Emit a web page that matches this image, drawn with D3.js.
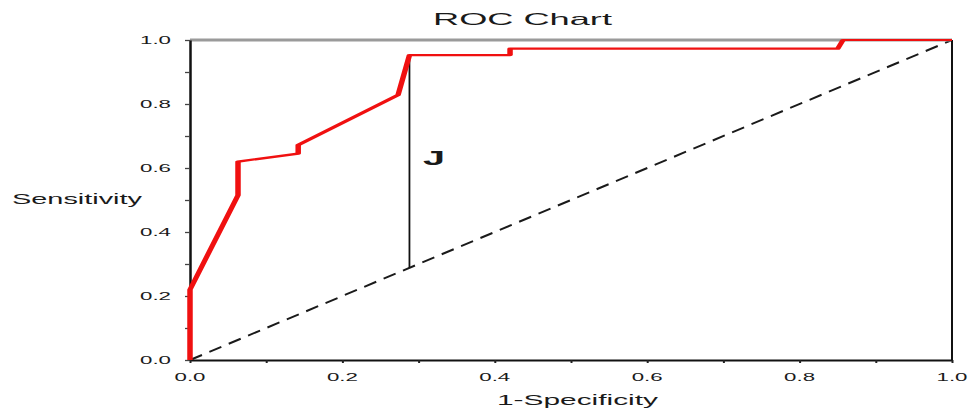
<!DOCTYPE html>
<html>
<head>
<meta charset="utf-8">
<script src="https://cdn.jsdelivr.net/npm/d3@7"></script>
<style>
  html, body { margin: 0; padding: 0; background: #fff; }
  text { font-family: "Liberation Sans", Arial, sans-serif; fill: #1a1a1a; }
</style>
</head>
<body>
<svg id="chart" width="971" height="411"></svg>
<script>
// ---- data ----
const rocFpr  = [0, 0, 0.063, 0.063, 0.142, 0.142, 0.273, 0.288, 0.42, 0.42, 0.85, 0.857, 1];
const rocSens = [0, 0.22, 0.515, 0.62, 0.645, 0.672, 0.828, 0.953, 0.953, 0.973, 0.973, 1, 1];
const youdenFpr = 0.288;
const youdenSens = 0.953;
const tickValuesMinor = [0, 0.1, 0.2, 0.3, 0.4, 0.5, 0.6, 0.7, 0.8, 0.9, 1];
const tickLabelValues = [0, 0.2, 0.4, 0.6, 0.8, 1];
const tickLabels = ["0.0", "0.2", "0.4", "0.6", "0.8", "1.0"];
const titleText = "ROC Chart";
const xLabel = "1-Specificity";
const yLabel = "Sensitivity";
const jLabel = "J";

// ---- layout ----
const svg = d3.select("#chart");
const x = d3.scaleLinear().domain([0, 1]).range([190, 952]);
const y = d3.scaleLinear().domain([0, 1]).range([360, 40]);

// diagonal reference (dashed)
svg.append("line")
  .attr("x1", x(0)).attr("y1", y(0)).attr("x2", x(1)).attr("y2", y(1))
  .attr("stroke", "#1a1a1a").attr("stroke-width", 2)
  .attr("stroke-dasharray", "13,8");

// frame: top gray, right black
svg.append("line")
  .attr("x1", x(0)).attr("x2", x(1)).attr("y1", y(1)).attr("y2", y(1))
  .attr("stroke", "#9a9a9a").attr("stroke-width", 3);
svg.append("line")
  .attr("x1", x(1)).attr("x2", x(1)).attr("y1", y(1)).attr("y2", y(0))
  .attr("stroke", "#111").attr("stroke-width", 2);

// axes
const yAxis = svg.append("g").attr("transform", `translate(${x(0)},0)`)
  .call(d3.axisLeft(y).tickValues(tickValuesMinor).tickSize(5).tickFormat("").tickSizeOuter(0));
yAxis.select(".domain").attr("stroke", "#111").attr("stroke-width", 2.5);
yAxis.selectAll(".tick line").attr("stroke", "#444").attr("stroke-width", 1.3);

const xAxis = svg.append("g").attr("transform", `translate(0,${y(0)})`)
  .call(d3.axisBottom(x).tickValues(tickValuesMinor).tickSize(3).tickFormat("").tickSizeOuter(0));
xAxis.select(".domain").attr("stroke", "#111").attr("stroke-width", 2);
xAxis.selectAll(".tick line").attr("stroke", "#222").attr("stroke-width", 2);

// tick labels
svg.selectAll("text.ylab").data(tickLabelValues).join("text")
  .attr("class", "ylab")
  .attr("x", 171).attr("y", d => y(d)).attr("dy", "0.36em")
  .attr("text-anchor", "end")
  .attr("font-size", 10.5)
  .attr("textLength", 31).attr("lengthAdjust", "spacingAndGlyphs")
  .text((d, i) => tickLabels[i]);

svg.selectAll("text.xlab").data(tickLabelValues).join("text")
  .attr("class", "xlab")
  .attr("x", d => x(d)).attr("y", 380.5)
  .attr("text-anchor", "middle")
  .attr("font-size", 10.5)
  .attr("textLength", 31).attr("lengthAdjust", "spacingAndGlyphs")
  .text((d, i) => tickLabels[i]);

// Youden J line
svg.append("line")
  .attr("x1", x(youdenFpr)).attr("x2", x(youdenFpr))
  .attr("y1", y(youdenSens)).attr("y2", y(youdenFpr))
  .attr("stroke", "#111").attr("stroke-width", 1.8);

// ROC curve (anisotropic stroke: thick verticals, thin horizontals)
const sy = 0.4;
const rocPts = rocFpr.map((f, i) => [f, rocSens[i]]);
const line = d3.line().x(d => x(d[0])).y(d => y(d[1]) / sy);
svg.append("g").attr("transform", `scale(1,${sy})`)
  .append("path")
  .datum(rocPts)
  .attr("d", line)
  .attr("fill", "none")
  .attr("stroke", "#f01010")
  .attr("stroke-width", 5.5)
  .attr("stroke-linejoin", "round");

// texts
svg.append("text").attr("x", 433).attr("y", 25)
  .attr("font-size", 16.5).attr("textLength", 179).attr("lengthAdjust", "spacingAndGlyphs")
  .text(titleText);

svg.append("text").attr("x", 12).attr("y", 204)
  .attr("font-size", 15).attr("textLength", 130).attr("lengthAdjust", "spacingAndGlyphs")
  .text(yLabel);

svg.append("text").attr("x", 497).attr("y", 405)
  .attr("font-size", 14.5).attr("textLength", 161).attr("lengthAdjust", "spacingAndGlyphs")
  .text(xLabel);

svg.append("text").attr("x", 423).attr("y", 165)
  .attr("font-size", 21).attr("font-weight", "bold")
  .attr("textLength", 22).attr("lengthAdjust", "spacingAndGlyphs")
  .text(jLabel);
</script>
</body>
</html>
